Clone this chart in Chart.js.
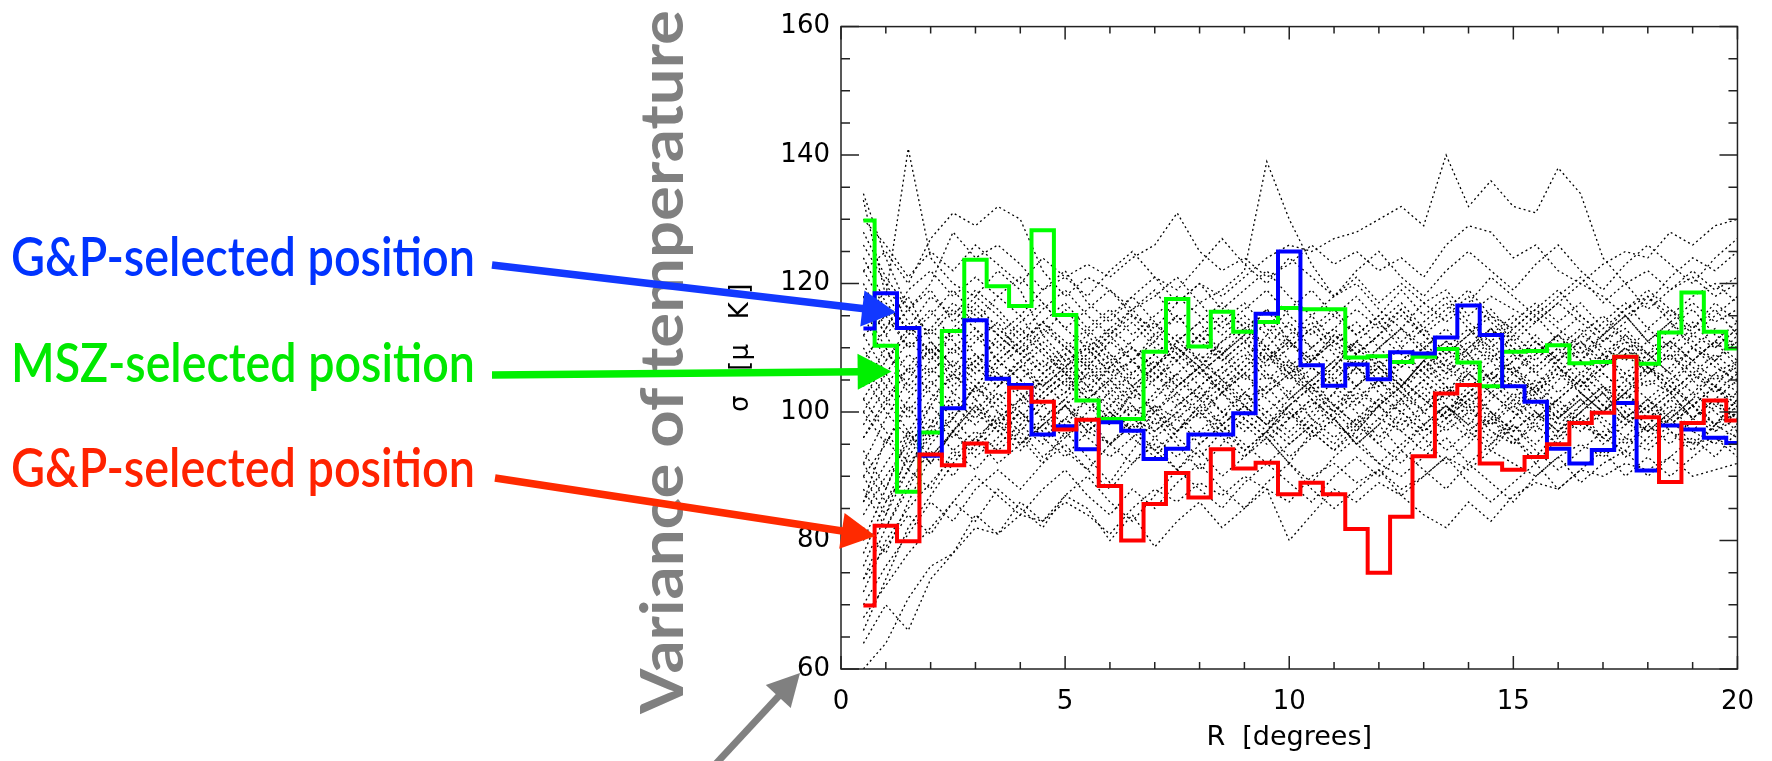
<!DOCTYPE html>
<html>
<head>
<meta charset="utf-8">
<title>Variance of temperature</title>
<script src="https://cdn.jsdelivr.net/npm/chart.js@4.4.1/dist/chart.umd.min.js"></script>
<style>
  html, body { margin: 0; padding: 0; background: #fff; }
  #wrap { width: 1772px; height: 761px; }
</style>
</head>
<body>
<div id="wrap"><canvas id="sigmaChart" width="1772" height="761"></canvas></div>
<script>
// bin centres, R in degrees
const rValues = [0.5, 1.0, 1.5, 2.0, 2.5, 3.0, 3.5, 4.0, 4.5, 5.0,
                 5.5, 6.0, 6.5, 7.0, 7.5, 8.0, 8.5, 9.0, 9.5, 10.0,
                 10.5, 11.0, 11.5, 12.0, 12.5, 13.0, 13.5, 14.0, 14.5, 15.0,
                 15.5, 16.0, 16.5, 17.0, 17.5, 18.0, 18.5, 19.0, 19.5, 20.0];

// sigma [uK] at the selected positions
const gpBlue = [113, 118.5, 113.1, 93.2, 100.6, 114.3, 105.2, 104.2, 96.5, 97.8,
                94.2, 98.4, 97.1, 92.7, 94.3, 96.5, 96.5, 99.8, 115.3, 125.0,
                107.3, 104.1, 107.4, 105.1, 109.3, 109.1, 111.6, 116.6, 112.0, 104.0,
                101.6, 94.3, 92.0, 94.1, 101.4, 90.9, 97.9, 97.3, 96.0, 95.2];
const mszGreen = [129.8, 110.3, 87.6, 96.8, 112.6, 123.7, 119.6, 116.5, 128.3, 115.1,
                  101.8, 98.9, 98.9, 109.4, 117.6, 110.2, 115.6, 112.5, 114.0, 116.2,
                  116.0, 116.0, 108.5, 108.7, 107.8, 108.6, 109.8, 107.7, 104.0, 109.4,
                  109.5, 110.4, 107.6, 107.8, 108.6, 107.5, 112.4, 118.6, 112.5, 109.9];
const gpRed = [69.9, 82.3, 79.9, 93.4, 91.7, 95.1, 93.8, 103.8, 101.6, 97.3,
               98.8, 88.5, 80.0, 85.7, 90.5, 86.7, 94.2, 91.2, 92.1, 87.2,
               89.0, 87.2, 81.8, 75.0, 83.7, 93.1, 102.9, 104.2, 92.0, 91.0,
               93.0, 95.0, 98.3, 99.9, 108.6, 99.2, 89.1, 98.3, 101.8, 98.7];

// simulated positions (dotted)
const sim01 = [133,118,141,124,120,118,122,119,112,108, 110,106,108,112,110,107,111,113,109,106, 108,112,110,107,104,108,111,109,113,110, 106,109,112,110,108,111,114,110,108,111];
const sim02 = [122,125,120,127,131,129,132,130,122,118, 121,119,116,118,121,117,119,122,139,130, 123,118,120,116,113,117,119,115,118,116, 114,117,120,118,115,117,121,124,122,125];
const sim03 = [112,115,110,113,117,114,118,121,117,113, 116,119,115,113,117,120,118,121,124,126, 125,127,128,130,132,129,140,132,136,132, 131,138,134,124,120,122,119,121,118,120];
const sim04 = [118,112,116,120,128,124,126,123,119,121, 123,121,124,126,131,125,122,124,121,123, 126,123,125,122,124,121,126,129,128,124, 126,122,120,123,125,124,128,126,129,130];
const sim05 = [130,126,121,125,122,126,123,120,124,121, 118,122,125,121,119,123,127,123,120,124, 121,118,122,125,121,118,122,125,122,119, 123,126,122,119,123,126,123,120,124,127];
const sim06 = [60,64,71,76,78,82,81,84,83,86, 84,81,85,88,86,89,87,90,88,86, 90,92,89,91,88,90,93,91,94,92, 90,93,95,93,96,94,97,95,96,94];
const sim07 = [64,70,66,74,78,84,81,86,83,87, 85,80,84,79,83,86,82,85,88,80, 84,88,86,89,87,84,82,86,83,87, 89,88,91,90,92,91,93,90,91,92];
const sim08 = [68,73,78,82,86,83,88,85,82,87, 90,86,83,87,91,88,85,89,92,89, 86,90,93,90,94,91,88,92,89,86, 90,93,89,92,94,90,93,96,93,97];
const sim09 = [74,79,84,81,86,90,87,84,88,91, 87,84,88,85,89,92,88,85,89,92, 88,85,88,91,87,90,93,89,86,89, 92,88,91,94,90,93,90,93,96,93];
const sim10 = [96,101,107,103,99,104,108,105,101,103, 107,104,100,102,106,109,105,102,104,107, 103,100,104,108,105,102,99,103,106,104, 101,105,108,104,102,105,103,106,104,102];
const sim11 = [115,108,112,116,111,107,112,115,110,106, 109,113,110,107,111,114,109,112,116,111, 108,111,114,110,107,110,113,109,112,115, 111,108,112,115,111,109,113,116,112,110];
const sim12 = [84,90,95,99,96,100,97,94,98,101, 97,95,99,96,93,97,100,98,95,99, 102,98,96,99,97,94,98,101,97,95, 99,102,98,96,100,97,99,102,98,100];
const sim13 = [104,110,104,108,113,109,105,108,111,107, 104,107,110,106,103,106,109,105,108,111, 107,104,107,104,108,111,107,104,106,109, 106,103,106,109,106,104,107,110,107,105];
const sim14 = [78,86,91,97,102,99,103,100,97,101, 104,100,97,101,99,102,98,101,104,100, 97,100,103,101,98,101,104,100,98,101, 104,100,97,100,103,100,98,101,104,101];
const sim15 = [124,117,113,118,115,119,116,112,116,119, 115,112,116,119,114,117,113,116,119,115, 112,115,118,114,117,113,116,119,115,113, 116,119,115,112,116,118,115,118,120,117];
const sim16 = [72,80,85,89,93,96,92,95,98,94, 91,95,98,94,91,95,98,94,97,93, 96,99,95,92,95,98,94,97,100,96, 93,97,100,96,94,98,101,97,95,98];
const sim17 = [110,104,109,106,110,113,108,111,107,110, 113,109,106,109,112,108,111,114,110,107, 110,113,109,112,109,106,110,113,109,106, 109,112,108,111,113,109,111,114,110,113];
const sim18 = [90,95,101,96,100,104,101,98,102,105, 101,98,103,106,102,99,103,106,102,99, 101,105,102,99,102,105,101,98,102,105, 102,99,103,106,103,100,103,99,102,105];
const sim19 = [128,121,116,112,116,113,110,114,117,113, 110,113,116,112,115,111,114,117,113,110, 113,116,112,115,111,114,117,113,110,113, 116,113,110,114,117,113,116,112,115,118];
const sim20 = [102,97,92,96,99,95,99,102,99,96, 100,103,99,97,100,103,100,97,100,103, 99,96,99,102,100,97,100,103,100,97, 100,97,100,103,99,97,100,103,100,97];
const sim21 = [76,84,94,101,106,103,107,110,106,103, 106,109,105,108,104,107,110,106,103,106, 109,105,108,105,102,105,108,105,108,104, 107,110,106,103,106,109,106,103,106,108];
const sim22 = [88,82,89,94,90,95,100,96,92,97, 93,89,94,99,95,91,95,99,96,92, 97,94,98,95,99,96,92,95,99,96, 92,96,99,95,98,101,97,94,98,101];
const sim23 = [108,113,119,122,118,121,118,115,119,122, 117,114,118,121,117,120,116,119,122,118, 115,118,121,117,120,117,114,117,121,118, 115,118,121,117,120,116,119,122,119,121];
const sim24 = [116,110,103,107,103,100,104,107,103,106, 102,105,108,104,101,104,107,103,106,102, 105,108,104,101,104,107,104,101,104,107, 103,106,103,100,104,107,103,106,103,106];
const sim25 = [82,78,86,93,97,101,98,102,105,101, 98,101,104,100,103,100,97,100,103,106, 102,99,102,105,101,104,100,103,106,102, 99,102,105,101,99,102,105,101,104,100];
const sim26 = [120,113,118,111,107,111,114,109,106,109, 112,108,111,114,109,106,109,112,108,111, 114,110,107,110,113,109,106,110,113,110, 107,110,113,109,112,108,111,108,111,114];
const sim27 = [70,76,81,86,83,88,91,88,92,95, 91,88,92,95,91,94,90,93,96,92, 89,93,96,92,90,93,96,92,95,98, 94,91,94,97,93,96,99,95,98,96];
const sim28 = [98,104,99,104,108,105,102,105,108,104, 107,103,106,109,105,102,106,109,105,108, 104,107,104,107,110,106,103,107,110,106, 103,107,104,107,110,106,109,105,108,104];
const sim29 = [92,99,105,110,106,109,106,102,106,109, 105,108,104,107,110,106,103,107,110,106, 103,106,109,106,103,107,110,106,103,106, 110,107,104,107,109,106,110,107,104,108];
const sim30 = [86,92,97,93,97,93,96,100,96,93, 97,100,96,93,97,100,96,93,97,101, 97,94,97,101,97,100,103,99,96,99, 103,99,102,99,96,100,103,99,97,100];
const sim31 = [100,106,111,108,112,116,112,109,113,110, 107,111,114,110,108,112,115,111,108,112, 115,111,109,112,116,112,109,112,115,111, 108,112,115,112,109,113,110,113,116,112];
const sim32 = [94,88,97,102,106,102,98,101,105,108, 104,101,97,100,104,107,103,100,97,101, 104,100,97,101,104,108,104,101,98,102, 105,101,98,101,105,102,99,102,106,103];
const sim33 = [118,112,106,110,105,108,111,107,104,107, 110,106,103,107,110,107,103,106,109,105, 108,111,107,104,107,110,106,109,105,108, 111,107,104,108,111,107,105,108,111,108];
const sim34 = [80,88,96,92,97,94,98,95,99,102, 98,95,98,101,97,100,103,99,96,99, 102,99,95,98,102,98,101,98,95,99, 102,98,101,104,100,97,100,97,101,99];
const sim35 = [106,100,96,101,97,102,106,103,99,102, 106,102,99,103,106,102,105,101,98,102, 105,101,104,107,103,100,103,106,103,100, 104,107,103,100,103,107,104,101,104,101];
const sim36 = [126,120,114,109,113,117,113,110,114,111, 108,112,115,111,108,112,109,113,110,114, 110,107,111,114,110,113,109,112,116,112, 109,112,109,112,115,111,114,111,108,112];
const sim37 = [92,86,93,98,94,91,95,98,95,99, 96,93,96,100,96,93,97,94,97,100, 96,99,95,98,94,98,101,97,94,98, 95,99,102,98,95,98,95,99,102,99];
const sim38 = [100,95,102,106,110,106,109,113,109,106, 109,112,108,105,109,112,108,111,107,110, 113,109,106,110,113,110,107,110,113,109, 112,108,111,108,112,109,106,110,113,110];
const sim39 = [112,106,100,105,101,98,102,99,103,106, 102,99,103,100,97,101,104,101,98,101, 104,101,98,102,105,102,99,102,99,103, 100,97,101,104,101,98,102,105,101,103];
const sim40 = [74,82,88,95,99,104,100,97,101,98, 102,105,101,98,101,104,100,103,100,97, 100,103,107,103,100,103,99,102,105,101, 98,102,105,101,98,101,104,101,98,102];
const sim41 = [122,116,110,113,109,112,108,111,114,110, 107,111,108,111,115,111,108,111,114,111, 108,112,109,112,115,112,108,111,108,112, 115,111,108,112,115,111,108,112,110,113];
const sim42 = [96,102,97,92,97,101,97,100,96,99, 102,98,101,97,100,96,99,103,99,96, 99,103,100,96,100,97,100,104,100,97, 100,96,100,103,99,102,98,101,98,102];
const sim43 = [108,102,107,111,107,104,108,105,102,105, 108,105,102,105,108,104,107,110,106,103, 107,104,101,105,108,105,102,106,109,106, 103,106,110,106,103,106,109,106,109,106];
const sim44 = [86,96,91,98,103,107,104,108,104,107, 111,107,104,107,111,108,105,108,112,108, 105,108,111,108,104,108,111,108,111,107, 104,108,111,107,110,107,104,108,111,107];
const sim45 = [134,124,116,119,114,118,115,111,114,117, 113,116,112,115,118,115,112,115,112,116, 119,115,112,115,119,115,118,114,111,114, 117,114,117,113,116,119,116,113,117,114];
const sim46 = [90,84,91,88,94,97,94,97,93,96, 99,95,92,96,99,95,98,95,92,95, 98,95,99,95,92,96,99,96,99,95, 98,95,99,96,99,95,98,101,97,99];
const sim47 = [102,108,113,109,104,108,104,107,110,106, 103,107,110,107,104,107,104,107,110,107, 104,107,111,107,104,108,105,108,105,108, 111,108,105,109,105,108,111,108,105,107];
const sim48 = [66,74,82,87,92,96,99,95,98,101, 97,100,97,94,97,101,98,101,98,95, 98,101,98,101,104,100,97,100,103,100, 97,100,103,100,103,99,102,99,102,98];
const sim49 = [114,119,112,115,119,115,112,109,112,116, 112,115,118,114,111,114,117,113,116,113, 110,113,116,113,116,112,115,118,114,111, 114,117,114,111,114,118,114,117,114,116];
const simCurves = [sim01, sim02, sim03, sim04, sim05, sim06, sim07, sim08, sim09, sim10,
                   sim11, sim12, sim13, sim14, sim15, sim16, sim17, sim18, sim19, sim20,
                   sim21, sim22, sim23, sim24, sim25, sim26, sim27, sim28, sim29, sim30,
                   sim31, sim32, sim33, sim34, sim35, sim36, sim37, sim38, sim39, sim40,
                   sim41, sim42, sim43, sim44, sim45, sim46, sim47, sim48, sim49];

const xTicks = [0, 5, 10, 15, 20];
const yTicks = [60, 80, 100, 120, 140, 160];
const xMinorStep = 1;
const yMinorStep = 5;

function toPoints(values) {
  return values.map((v, i) => ({ x: rValues[i], y: v }));
}

function histLine(label, values, color, order) {
  return {
    label: label,
    data: toPoints(values),
    borderColor: color,
    borderWidth: 4,
    stepped: 'middle',
    borderJoinStyle: 'miter',
    borderCapStyle: 'butt',
    pointRadius: 0,
    fill: false,
    order: order
  };
}

var datasets = [
  histLine('G&P red', gpRed, '#ff0000', 0),
  histLine('G&P blue', gpBlue, '#0000ff', 1),
  histLine('MSZ green', mszGreen, '#00ff00', 2)
];
simCurves.forEach(function (vals, i) {
  datasets.push({
    label: 'sim ' + (i + 1),
    data: toPoints(vals),
    borderColor: '#000',
    borderWidth: 1.3,
    borderDash: [2, 3],
    pointRadius: 0,
    tension: 0,
    fill: false,
    order: 3
  });
});

// axis box with inward major + minor ticks on all four sides
const frameTicks = {
  id: 'frameTicks',
  afterDatasetsDraw(chart) {
    const ctx = chart.ctx;
    const a = chart.chartArea;
    const xs = chart.scales.x, ys = chart.scales.y;
    ctx.save();
    ctx.strokeStyle = '#222';
    ctx.lineWidth = 1.5;
    ctx.strokeRect(a.left, a.top, a.right - a.left, a.bottom - a.top);
    ctx.beginPath();
    for (let v = xs.min; v <= xs.max; v += xMinorStep) {
      const px = xs.getPixelForValue(v);
      const len = xTicks.includes(v) ? 13 : 7;
      ctx.moveTo(px, a.bottom); ctx.lineTo(px, a.bottom - len);
      ctx.moveTo(px, a.top); ctx.lineTo(px, a.top + len);
    }
    for (let v = ys.min; v <= ys.max; v += yMinorStep) {
      const py = ys.getPixelForValue(v);
      const len = yTicks.includes(v) ? 18 : 9;
      ctx.moveTo(a.left, py); ctx.lineTo(a.left + len, py);
      ctx.moveTo(a.right, py); ctx.lineTo(a.right - len, py);
    }
    ctx.stroke();
    ctx.restore();
  }
};

function drawArrow(ctx, x0, y0, x1, y1, color, width, headLen, headHalf) {
  const ang = Math.atan2(y1 - y0, x1 - x0);
  const c = Math.cos(ang), s = Math.sin(ang);
  const bx = x1 - headLen * c, by = y1 - headLen * s;
  ctx.strokeStyle = color;
  ctx.lineWidth = width;
  ctx.lineCap = 'butt';
  ctx.beginPath();
  ctx.moveTo(x0, y0);
  ctx.lineTo(bx + 2 * c, by + 2 * s);
  ctx.stroke();
  ctx.fillStyle = color;
  ctx.beginPath();
  ctx.moveTo(x1, y1);
  ctx.lineTo(bx + headHalf * s, by - headHalf * c);
  ctx.lineTo(bx - headHalf * s, by + headHalf * c);
  ctx.closePath();
  ctx.fill();
}

// labels pointing at the three curves; tips given in data units
const callouts = [
  { text: 'G&P-selected position', color: '#0033ff', arrow: '#1238ff', baseline: 276, tail: [492, 265], tip: [1.23, 115.5] },
  { text: 'MSZ-selected position', color: '#00e800', arrow: '#00f000', baseline: 382, tail: [492, 375], tip: [1.13, 106.3] },
  { text: 'G&P-selected position', color: '#ff2200', arrow: '#ff2a00', baseline: 487, tail: [495, 478], tip: [0.77, 80.7] }
];

const annotations = {
  id: 'annotations',
  afterDraw(chart) {
    const ctx = chart.ctx;
    const xs = chart.scales.x, ys = chart.scales.y;
    ctx.save();
    // big grey vertical caption, stretched to its length in the original
    ctx.save();
    ctx.translate(683, 714);
    ctx.rotate(-Math.PI / 2);
    ctx.fillStyle = '#808080';
    ctx.font = 'bold 60px Lato';
    ctx.textBaseline = 'alphabetic';
    const caption = 'Variance of temperature';
    const w = ctx.measureText(caption).width;
    ctx.scale(704 / w, 1);
    ctx.fillText(caption, 0, 0);
    ctx.restore();

    ctx.textBaseline = 'alphabetic';
    ctx.font = '600 53px Lato';
    callouts.forEach(function (c) {
      ctx.fillStyle = c.color;
      ctx.fillText(c.text, 11, c.baseline, 464);
      drawArrow(ctx, c.tail[0], c.tail[1], xs.getPixelForValue(c.tip[0]), ys.getPixelForValue(c.tip[1]),
                c.arrow, 7.5, 34, 18);
    });
    // grey arrow at the bottom left
    drawArrow(ctx, 712, 768, 800, 673, '#808080', 7, 32, 17);
    ctx.restore();
  }
};

const tickFont = { family: 'DejaVu Sans', size: 26 };

new Chart(document.getElementById('sigmaChart'), {
  type: 'line',
  data: { datasets: datasets },
  options: {
    responsive: false,
    animation: false,
    devicePixelRatio: 1,
    layout: { padding: { left: 700, top: 22, right: 19, bottom: 0 } },
    plugins: { legend: { display: false }, tooltip: { enabled: false } },
    scales: {
      x: {
        type: 'linear',
        min: 0,
        max: 20,
        grid: { display: false, drawTicks: false },
        border: { display: false },
        afterBuildTicks: function (s) { s.ticks = xTicks.map(v => ({ value: v })); },
        afterFit: function (s) { s.height = 92; },
        ticks: { padding: 18, color: '#000', font: tickFont, maxRotation: 0, autoSkip: false },
        title: { display: true, text: 'R  [degrees]', color: '#000', font: { family: 'DejaVu Sans', size: 27 }, padding: { top: 0, bottom: 7 } }
      },
      y: {
        type: 'linear',
        min: 60,
        max: 160,
        grid: { display: false, drawTicks: false },
        border: { display: false },
        afterBuildTicks: function (s) { s.ticks = yTicks.map(v => ({ value: v })); },
        afterFit: function (s) { s.width = 141; },
        ticks: { padding: 11, color: '#000', font: tickFont, autoSkip: false },
        title: { display: true, text: 'σ   [μ   K ]', color: '#000', font: { family: 'DejaVu Sans', size: 26 }, padding: { top: 26, bottom: 0 } }
      }
    }
  },
  plugins: [frameTicks, annotations]
});
</script>
</body>
</html>
